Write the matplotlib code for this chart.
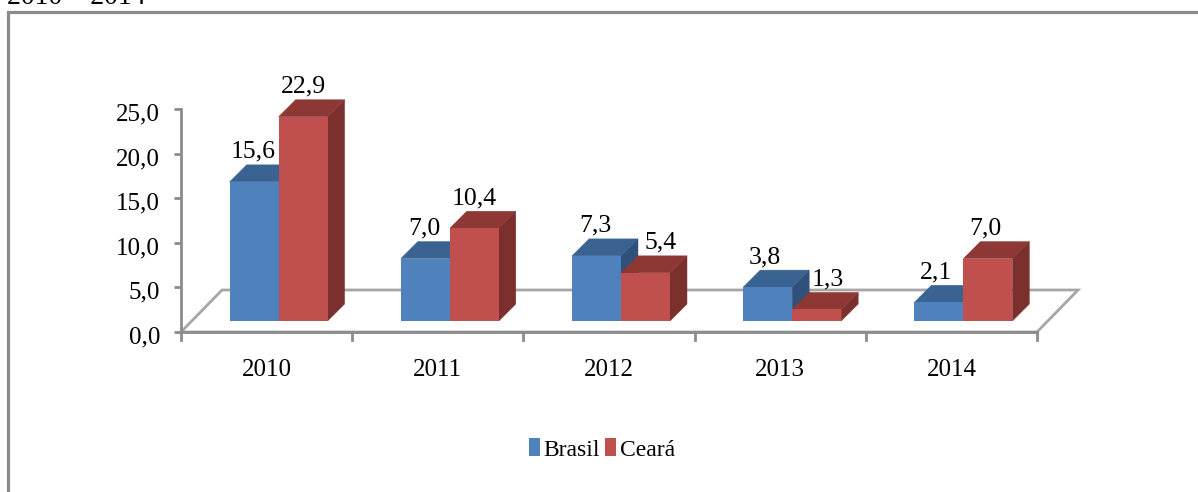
import matplotlib
matplotlib.use('Agg')
import matplotlib.pyplot as plt
from matplotlib.patches import Polygon, Rectangle
from matplotlib.transforms import ScaledTranslation

years = ['2010', '2011', '2012', '2013', '2014']
brasil = [15.6, 7.0, 7.3, 3.8, 2.1]
ceara = [22.9, 10.4, 5.4, 1.3, 7.0]
yticks = [0, 5, 10, 15, 20, 25]

# label nudges (pixels), the labels are not all centred on their bars
nudge_brasil = [-1, -1, -1, -3, -3]
nudge_ceara = [0, 0, 15, 11, -3]

W, H = 1198, 492
plt.rcParams['font.family'] = ['Liberation Serif', 'DejaVu Serif']

fig = plt.figure(figsize=(W / 100, H / 100), dpi=100)
fig.patch.set_facecolor('white')

# outer frame + clipped caption line at the top, figure pixel coords
bg = fig.add_axes([0, 0, 1, 1])
bg.set_xlim(0, W)
bg.set_ylim(H, 0)
bg.axis('off')
bg.plot([7.5, 7.5, W + 5], [H + 5, 11.5, 11.5], color='#8a8a8a', lw=2.3, solid_joinstyle='miter')
bg.text(7, 4, '2010 – 2014', fontsize=20, ha='left', va='baseline', color='black')

# plot area: y axis 181 -> 1037 wide, 109 -> 332 tall
ax = fig.add_axes([181 / W, 1 - 332 / H, (1037 - 181) / W, (332 - 109) / H])
ax.set_xlim(-0.5, 4.5)
ax.set_ylim(0, 25)
ax.patch.set_alpha(0)
for s in ['top', 'right']:
    ax.spines[s].set_visible(False)
for s in ['left', 'bottom']:
    ax.spines[s].set_color('#8c8c8c')
    ax.spines[s].set_linewidth(2)

ax.set_yticks(yticks)
ax.set_yticklabels([f'{v:.1f}'.replace('.', ',') for v in yticks], fontsize=18)
ax.set_xticks([])
ax.tick_params(axis='y', color='#8c8c8c', width=2, length=5, pad=10)
for lab in ax.get_yticklabels():
    lab.set_transform(lab.get_transform() + ScaledTranslation(0, -3 / 100, fig.dpi_scale_trans))

# 3d look: pixel -> data scale
ux = 5 / (1037 - 181)
uy = 25 / (332 - 109)

for i in range(6):
    ax.plot([i - 0.5, i - 0.5], [0, -8 * uy], color='#8c8c8c', lw=2, clip_on=False)
for i, y in enumerate(years):
    ax.text(i, -38 * uy, y, fontsize=18, ha='center', va='center')

# floor
fx, fy = 41 * ux, 42 * uy
ax.add_patch(Polygon([(-0.5, 0), (-0.5 + fx, fy), (4.5 + fx, fy), (4.5, 0)], closed=True,
                     fill=False, ec='#a6a6a6', lw=2, clip_on=False, zorder=1))

base = 11 * uy
dep_x, dep_y = 17 * ux, 17 * uy
bw = 49 * ux
shift = 12 * ux


def bar3d(x0, val, front, top, side, z):
    y0, y1 = base, base + val
    x1 = x0 + bw
    ax.add_patch(Polygon([(x1, y0), (x1 + dep_x, y0 + dep_y), (x1 + dep_x, y1 + dep_y), (x1, y1)],
                         fc=side, ec=side, lw=0.3, clip_on=False, zorder=z))
    ax.add_patch(Polygon([(x0, y1), (x0 + dep_x, y1 + dep_y), (x1 + dep_x, y1 + dep_y), (x1, y1)],
                         fc=top, ec=top, lw=0.3, clip_on=False, zorder=z))
    ax.add_patch(Rectangle((x0, y0), bw, val, fc=front, ec='none', clip_on=False, zorder=z + 0.5))


def bar_label(x, val, z=6):
    ax.text(x, base + val + dep_y + 7 * uy, f'{val:.1f}'.replace('.', ','),
            fontsize=18.5, ha='center', va='baseline', zorder=z)


for i in range(len(years)):
    c = i + shift
    bar3d(c - bw, brasil[i], '#4f81bd', '#3b6391', '#2f5079', 3)
    bar3d(c, ceara[i], '#c0504d', '#8e3836', '#7c302e', 4)
    bar_label(c - bw / 2 + nudge_brasil[i] * ux, brasil[i])
    bar_label(c + bw / 2 + nudge_ceara[i] * ux, ceara[i])

# legend
bg.add_patch(Rectangle((529, 438), 11, 18, fc='#4f81bd', ec='none'))
bg.add_patch(Rectangle((605, 438), 11, 18, fc='#c0504d', ec='none'))
bg.text(543, 456, 'Brasil', fontsize=17, ha='left', va='baseline')
bg.text(620, 456, 'Ceará', fontsize=17, ha='left', va='baseline')

fig.savefig('out.png', dpi=100)
